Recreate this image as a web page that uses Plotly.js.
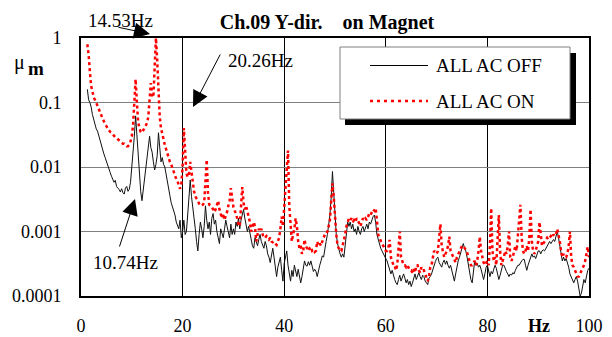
<!DOCTYPE html>
<html>
<head>
<meta charset="utf-8">
<script src="https://cdn.plot.ly/plotly-3.0.1.min.js"></script>
<style>html,body{margin:0;padding:0;background:#fff;}#chart{width:612px;height:337px;}</style>
</head>
<body>
<div id="chart"></div>
<script>
// Frequency grid (Hz): first sample and spacing
const freqStart = 1.25;
const freqStep = 0.25;

// Amplitude (µm), ALL AC OFF
const acOff = [
0.16,0.11,0.1,0.085, 0.065,0.055,0.045,0.039,
0.036,0.03,0.027,0.023, 0.018,0.016,0.014,0.012,
0.0105,0.0088,0.0082,0.0072, 0.0065,0.0058,0.0062,0.005,
0.0047,0.0045,0.0041,0.0046, 0.004,0.0038,0.0047,0.005,
0.0042,0.0045,0.0058,0.0093, 0.016,0.03,0.062,0.03,
0.014,0.0065,0.0042,0.003, 0.0045,0.0073,0.011,0.015,
0.022,0.03,0.02,0.017, 0.012,0.009,0.011,0.015,
0.034,0.022,0.012,0.014, 0.011,0.01,0.0075,0.0055,
0.0045,0.0036,0.0028,0.0024, 0.002,0.0018,0.0014,0.0012,
0.0011,0.0015,0.0008,0.001, 0.0015,0.0009,0.001,0.0018,
0.0033,0.0063,0.0035,0.0025, 0.0016,0.0011,0.0007,0.0005,
0.0009,0.0014,0.0011,0.0008, 0.0012,0.0025,0.0015,0.0011,
0.0014,0.0009,0.0016,0.0019, 0.0013,0.0015,0.001,0.0008,
0.00065,0.0011,0.0009,0.0008, 0.0011,0.0015,0.0012,0.0009,
0.0008,0.0013,0.0009,0.0011, 0.0009,0.0014,0.0012,0.0016,
0.0011,0.0015,0.0018,0.0022, 0.0016,0.0013,0.001,0.0012,
0.0009,0.0007,0.0006,0.00055, 0.0008,0.0007,0.0006,0.00075,
0.0009,0.0007,0.0006,0.00055, 0.0007,0.0006,0.00045,0.0004,
0.00033,0.00045,0.00055,0.0004, 0.0003,0.0002,0.00028,0.00035,
0.0004,0.00025,0.00017,0.00032, 0.0004,0.0005,0.0003,0.00022,
0.00017,0.00025,0.0002,0.0003, 0.00025,0.0002,0.00026,0.00021,
0.00016,0.0002,0.00028,0.00035, 0.0003,0.00029,0.00034,0.0003,
0.00035,0.00028,0.00024,0.00026, 0.00024,0.0002,0.00026,0.0003,
0.00035,0.00042,0.0004,0.0005, 0.0007,0.0009,0.0012,0.0018,
0.0034,0.0085,0.004,0.0014, 0.0009,0.00065,0.0005,0.00045,
0.0004,0.00045,0.0004,0.0006, 0.0009,0.0014,0.0012,0.0014,
0.0011,0.0013,0.001,0.0011, 0.0009,0.0012,0.001,0.0009,
0.0011,0.0012,0.001,0.0012, 0.0013,0.0011,0.0014,0.0013,
0.0015,0.0017,0.0018,0.0014, 0.0009,0.00075,0.0006,0.00055,
0.0005,0.00045,0.0004,0.00038, 0.00035,0.0003,0.00025,0.00022,
0.00025,0.0002,0.00018,0.00016, 0.00015,0.00018,0.00021,0.00017,
0.00019,0.00022,0.00019,0.00016, 0.00018,0.00015,0.00017,0.00014,
0.00016,0.00019,0.00022,0.00018, 0.0002,0.00023,0.0002,0.00018,
0.00021,0.0002,0.00017,0.00016, 0.00015,0.00019,0.0002,0.00022,
0.00026,0.0003,0.00034,0.00038, 0.0004,0.00033,0.0003,0.00028,
0.00033,0.00036,0.00031,0.00035, 0.0003,0.00027,0.0003,0.00025,
0.0002,0.00017,0.00022,0.0003, 0.00035,0.0004,0.00048,0.0006,
0.00065,0.00055,0.0005,0.0004, 0.0003,0.00022,0.00018,0.00016,
0.00022,0.00035,0.0003,0.00032, 0.00028,0.0003,0.00026,0.00022,
0.00018,0.00022,0.00028,0.0003, 0.00025,0.0002,0.00024,0.00022,
0.00026,0.0003,0.00027,0.00022, 0.00018,0.00021,0.00026,0.0003,
0.0003,0.00026,0.00024,0.00022, 0.0002,0.00022,0.00021,0.00023,
0.00022,0.00025,0.00028,0.0003, 0.0003,0.00033,0.00035,0.00037,
0.00037,0.0003,0.00025,0.0003, 0.00035,0.0004,0.00045,0.0004,
0.00042,0.00038,0.00045,0.0005, 0.0005,0.00045,0.0005,0.00052,
0.0005,0.00055,0.0006,0.00065, 0.0007,0.00065,0.0007,0.00075,
0.0007,0.00085,0.001,0.0008, 0.0006,0.00045,0.00035,0.0004,
0.00035,0.00038,0.00033,0.00028, 0.00022,0.0002,0.00018,0.00016,
0.00018,0.0002,0.00017,0.00013, 0.0001,0.00011,0.00014,0.00018,
0.00016,0.0002,0.00025,0.00027
];

// Amplitude (µm), ALL AC ON
const acOn = [
0.8,0.55,0.3,0.18, 0.15,0.12,0.11,0.1,
0.09,0.08,0.07,0.062, 0.056,0.05,0.046,0.043,
0.039,0.037,0.035,0.034, 0.032,0.03,0.029,0.028,
0.027,0.026,0.025,0.024, 0.023,0.023,0.022,0.021,
0.021,0.022,0.025,0.03, 0.045,0.09,0.23,0.1,
0.05,0.04,0.035,0.034, 0.037,0.04,0.045,0.048,
0.06,0.12,0.2,0.13, 0.12,0.35,1.0,0.45,
0.15,0.06,0.04,0.032, 0.026,0.022,0.019,0.016,
0.013,0.012,0.011,0.0095, 0.0085,0.0075,0.0065,0.006,
0.0052,0.0046,0.0055,0.01, 0.04,0.013,0.008,0.007,
0.0075,0.012,0.008,0.005, 0.0042,0.0035,0.0033,0.003,
0.0027,0.0026,0.0025,0.0026, 0.0028,0.006,0.013,0.004,
0.0026,0.0025,0.0024,0.0022, 0.002,0.0022,0.0025,0.003,
0.0022,0.0018,0.0016,0.0019, 0.0015,0.0018,0.002,0.0025,
0.003,0.0047,0.003,0.0024, 0.0021,0.0019,0.0016,0.0013,
0.0012,0.003,0.0049,0.0028, 0.0022,0.0025,0.0021,0.0018,
0.0014,0.001,0.0012,0.0014, 0.0012,0.0007,0.0009,0.0011,
0.001,0.0011,0.0009,0.0008, 0.0008,0.00085,0.0008,0.00075,
0.0008,0.0007,0.00068,0.0007, 0.00065,0.00062,0.0007,0.0008,
0.0011,0.0017,0.0012,0.0022, 0.004,0.008,0.018,0.0025,
0.0012,0.0007,0.0009,0.0011, 0.0016,0.0012,0.0007,0.00055,
0.0006,0.00045,0.0005,0.00075, 0.0006,0.00055,0.0005,0.00055,
0.00058,0.0005,0.00052,0.00048, 0.0005,0.0007,0.0006,0.00065,
0.0006,0.0007,0.0008,0.0009, 0.0009,0.001,0.0012,0.0015,
0.003,0.0056,0.0035,0.0015, 0.0009,0.0006,0.00055,0.0005,
0.0005,0.0006,0.0007,0.0009, 0.0012,0.0014,0.0016,0.0015,
0.0016,0.0014,0.0015,0.0014, 0.0016,0.0015,0.0013,0.0012,
0.0014,0.0016,0.0015,0.0016, 0.0015,0.0017,0.0019,0.0018,
0.002,0.0022,0.0021,0.0023, 0.0015,0.0009,0.0008,0.0007,
0.00065,0.0006,0.00055,0.0005, 0.0005,0.00055,0.00074,0.0004,
0.00035,0.0003,0.0003,0.00025, 0.0003,0.0005,0.001,0.0004,
0.00035,0.0003,0.0003,0.00028, 0.0003,0.00027,0.00025,0.00025,
0.00023,0.00026,0.00023,0.0003, 0.0003,0.00025,0.00023,0.00028,
0.00025,0.00025,0.00022,0.0002, 0.00017,0.0002,0.00028,0.0003,
0.0004,0.0005,0.00048,0.00045, 0.0005,0.0008,0.0013,0.0006,
0.00045,0.0004,0.00045,0.0005, 0.0006,0.00083,0.0005,0.00045,
0.0004,0.00035,0.00033,0.0004, 0.00045,0.0005,0.00055,0.0006,
0.0006,0.00055,0.0005,0.00048, 0.0004,0.00035,0.0003,0.0003,
0.00033,0.00035,0.0003,0.00035, 0.0005,0.00083,0.0005,0.0004,
0.00033,0.0003,0.00032,0.00035, 0.0003,0.0006,0.0023,0.0005,
0.00035,0.0004,0.0003,0.0006, 0.0018,0.0005,0.0003,0.00035,
0.0004,0.0005,0.00045,0.0006, 0.001,0.0004,0.00035,0.0004,
0.0005,0.0006,0.0005,0.0008, 0.0015,0.0026,0.0008,0.0005,
0.00045,0.0005,0.0006,0.0005, 0.0008,0.0022,0.0007,0.0005,
0.00045,0.0005,0.0006,0.0007, 0.0014,0.0008,0.0006,0.00065,
0.0007,0.00075,0.0008,0.00075, 0.0008,0.00085,0.0008,0.0009,
0.00085,0.0009,0.0011,0.0009, 0.0007,0.0005,0.0004,0.00045,
0.0004,0.0004,0.00045,0.0006, 0.001,0.0004,0.0003,0.00028,
0.00025,0.00022,0.0002,0.0002, 0.00022,0.00025,0.00027,0.0003,
0.00035,0.00045,0.00058,0.0004
];

const seriesNames = ['ALL AC OFF', 'ALL AC ON'];
const xTickVals = [0, 20, 40, 60, 80, 100];
const yTickVals = [0.0001, 0.001, 0.01, 0.1, 1];
const yTickText = ['0.0001', '0.001', '0.01', '0.1', '1'];
const peakLabels = ['14.53Hz', '20.26Hz', '10.74Hz'];

const FONT = 'Liberation Serif, Times New Roman, serif';

const traces = [
  {type: 'scatter', mode: 'lines', name: seriesNames[0], x0: freqStart, dx: freqStep, y: acOff,
   line: {color: '#111111', width: 1}, showlegend: false},
  {type: 'scatter', mode: 'lines', name: seriesNames[1], x0: freqStart, dx: freqStep, y: acOn,
   line: {color: '#ff0000', width: 2.5, dash: '3px,3px'}, showlegend: false}
];

// paper-coordinate helpers (plot area: 81..589 px x, 38..296 px y)
const PX = p => (p - 81) / 508;
const PY = p => (296 - p) / 258;

const arrowBase = {xref: 'paper', yref: 'paper', text: '', showarrow: true,
  arrowhead: 2, arrowsize: 3.2, arrowwidth: 1, arrowcolor: '#000', standoff: 0};
const txt = (s, x, y, opts) => Object.assign({xref: 'paper', yref: 'paper', x: x, y: y, text: s,
  showarrow: false, font: {family: FONT, size: 19, color: '#000'}, xanchor: 'center', yanchor: 'middle'}, opts || {});

const annotations = [
  Object.assign({}, arrowBase, {x: PX(150), y: PY(34), ax: -33, ay: -7}),
  Object.assign({}, arrowBase, {x: PX(193), y: PY(107), ax: 28, ay: -54}),
  Object.assign({}, arrowBase, {x: PX(135), y: PY(199), ax: -16, ay: 49}),
  txt(peakLabels[0], PX(120), PY(20)),
  txt(peakLabels[1], PX(226), PY(60), {xanchor: 'left'}),
  txt(peakLabels[2], PX(125), PY(262)),
  txt('<b>Hz</b>', PX(539), PY(326), {font: {family: FONT, size: 18, color: '#000'}}),
  txt('μ', PX(19), PY(62), {font: {family: FONT, size: 20, color: '#000'}}),
  txt('<b>m</b>', PX(36), PY(68)),
  txt(seriesNames[0], PX(434), PY(65.5), {xanchor: 'left'}),
  txt(seriesNames[1], PX(434), PY(101), {xanchor: 'left'})
];

const shapes = [
  {type: 'rect', xref: 'paper', yref: 'paper', x0: PX(345), x1: PX(576), y0: PY(125), y1: PY(53),
   fillcolor: '#000', line: {width: 0}, layer: 'above'},
  {type: 'rect', xref: 'paper', yref: 'paper', x0: PX(340), x1: PX(570), y0: PY(119), y1: PY(47),
   fillcolor: '#fff', line: {color: '#808080', width: 1}, layer: 'above'},
  {type: 'line', xref: 'paper', yref: 'paper', x0: PX(370), x1: PX(428), y0: PY(65.5), y1: PY(65.5),
   line: {color: '#000', width: 1}, layer: 'above'},
  {type: 'line', xref: 'paper', yref: 'paper', x0: PX(370), x1: PX(428), y0: PY(101), y1: PY(101),
   line: {color: '#ff0000', width: 2.5, dash: '3px,4px'}, layer: 'above'}
];

const layout = {
  width: 612, height: 337,
  margin: {l: 81, r: 23, t: 38, b: 41, pad: 0},
  paper_bgcolor: '#fff', plot_bgcolor: '#fff',
  font: {family: FONT, size: 18, color: '#000'},
  title: {text: '<b>Ch.09 Y-dir.\u00a0\u00a0\u00a0 on Magnet</b>', x: 327 / 612, xref: 'container',
          y: 1 - 22 / 337, yref: 'container', xanchor: 'center', yanchor: 'middle',
          font: {family: FONT, size: 20, color: '#000'}},
  xaxis: {range: [0, 100], tickvals: xTickVals, ticks: '', showgrid: true, gridcolor: '#000', gridwidth: 1,
          zeroline: false, showline: true, mirror: true, linecolor: '#000', linewidth: 2,
          ticklabelstandoff: 12, tickfont: {family: FONT, size: 18}},
  yaxis: {type: 'log', range: [-4, 0], tickvals: yTickVals, ticktext: yTickText, ticks: '',
          showgrid: true, gridcolor: '#808080', gridwidth: 1, zeroline: false, showline: true, mirror: true,
          linecolor: '#000', linewidth: 2, ticklabelstandoff: 14, tickfont: {family: FONT, size: 18}},
  showlegend: false,
  annotations: annotations,
  shapes: shapes
};

Plotly.newPlot('chart', traces, layout, {staticPlot: true, displayModeBar: false});
</script>
</body>
</html>
